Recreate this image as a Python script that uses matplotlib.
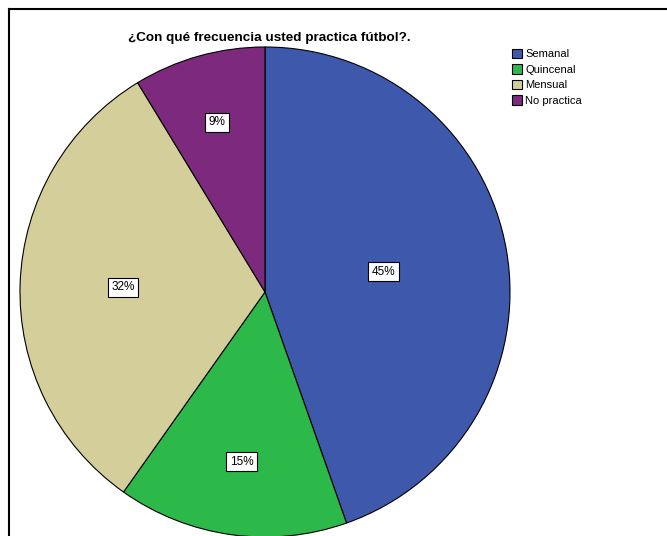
import numpy as np
import matplotlib.pyplot as plt

plt.rcParams['font.family'] = ['Liberation Sans', 'DejaVu Sans']

# Pie data
categories = ["Semanal", "Quincenal", "Mensual", "No practica"]
shares = [44.6, 15.2, 31.5, 8.7]
pct_labels = ["45%", "15%", "32%", "9%"]
colors = ["#3e58ac", "#2db84a", "#d4cf9a", "#7d2a7e"]
label_dist = [0.49, 0.70, 0.58, 0.72]

W, H = 667, 536
fig = plt.figure(figsize=(W / 100, H / 100), dpi=100)
ax = fig.add_axes([0, 0, 1, 1])

cx, cy, r = 265, H - 292, 245
wedges, _ = ax.pie(shares, colors=colors, startangle=90, counterclock=False,
                   center=(cx, cy), radius=r, frame=True,
                   wedgeprops=dict(edgecolor="black", linewidth=0.8))

# percentage labels in white boxes
total = sum(shares)
start = 90.0
for s, lab, d in zip(shares, pct_labels, label_dist):
    mid = np.deg2rad(start - s / total * 360 / 2)
    start -= s / total * 360
    ax.text(cx + d * r * np.cos(mid), cy + d * r * np.sin(mid), lab,
            ha="center", va="center", fontsize=8.5,
            bbox=dict(boxstyle="square,pad=0.3", fc="white", ec="black", lw=0.8))

ax.set_xlim(0, W)
ax.set_ylim(0, H)
ax.set_aspect("equal")
ax.axis("off")

# outer frame (left and top border)
ax.plot([9, 9], [0, H - 9], color="black", lw=1.5, clip_on=False)
ax.plot([9, W], [H - 9, H - 9], color="black", lw=1.5, clip_on=False)

ax.text(269, H - 38, "¿Con qué frecuencia usted practica fútbol?.",
        ha="center", va="center", fontsize=9.7, fontweight="bold")

ax.legend(wedges, categories, loc="upper left", bbox_to_anchor=(512, H - 49),
          bbox_transform=ax.transData, frameon=False, fontsize=8,
          handlelength=0.9, handleheight=0.9, handletextpad=0.3,
          labelspacing=0.45, borderpad=0, borderaxespad=0)

fig.savefig("out.png", dpi=100)
